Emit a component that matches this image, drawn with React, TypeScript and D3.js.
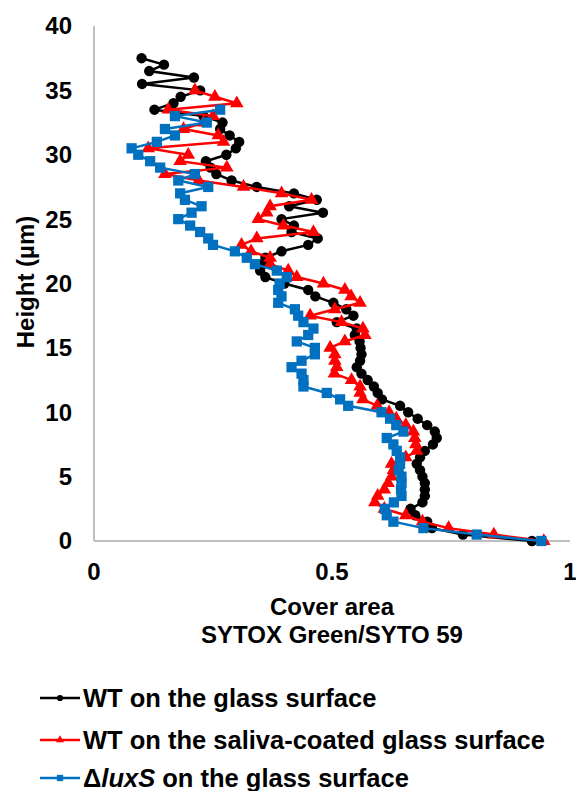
import React from 'react';
import * as d3 from 'd3';

// [height (µm), cover area]
const wtGlass: [number, number][] = [
  [0, 0.92], [0.5, 0.775], [1, 0.71], [1.5, 0.7], [2, 0.675], [2.5, 0.665], [3, 0.69], [3.5, 0.695],
  [4, 0.695], [4.5, 0.695], [5, 0.69], [5.5, 0.685], [6, 0.678], [6.5, 0.685], [7, 0.695], [7.5, 0.712],
  [8, 0.72], [8.5, 0.716], [9, 0.7], [9.5, 0.68], [10, 0.66], [10.5, 0.643], [11, 0.605], [11.5, 0.596],
  [12, 0.588], [12.5, 0.575], [13, 0.562], [13.5, 0.552], [14, 0.559], [14.5, 0.562], [15, 0.56], [15.5, 0.558],
  [16, 0.548], [16.5, 0.552], [17, 0.51], [17.5, 0.545], [18, 0.53], [18.5, 0.503], [19, 0.465], [19.5, 0.45],
  [20, 0.4], [20.5, 0.36], [21, 0.349], [21.5, 0.355], [22, 0.36], [22.5, 0.394], [23, 0.45], [23.5, 0.47],
  [24, 0.415], [24.5, 0.42], [25, 0.394], [25.5, 0.481], [26, 0.41], [26.5, 0.468], [27, 0.42], [27.5, 0.342],
  [28, 0.289], [28.5, 0.257], [29, 0.245], [29.5, 0.235], [30, 0.278], [30.5, 0.298], [31, 0.305], [31.5, 0.285],
  [32, 0.265], [32.5, 0.27], [33, 0.23], [33.5, 0.127], [34, 0.167], [34.5, 0.182], [35, 0.223], [35.5, 0.101],
  [36, 0.21], [36.5, 0.116], [37, 0.147], [37.5, 0.1],
];

const wtSaliva: [number, number][] = [
  [0, 0.945], [0.5, 0.84], [1, 0.745], [1.5, 0.69], [2, 0.655], [2.5, 0.61], [3, 0.59], [3.5, 0.596],
  [4, 0.61], [4.5, 0.618], [5, 0.625], [5.5, 0.629], [6, 0.625], [6.5, 0.655], [7, 0.678], [7.5, 0.676],
  [8, 0.674], [8.5, 0.671], [9, 0.655], [9.5, 0.635], [10, 0.62], [10.5, 0.595], [11, 0.565], [11.5, 0.559],
  [12, 0.559], [12.5, 0.541], [13, 0.505], [13.5, 0.51], [14, 0.506], [14.5, 0.506], [15, 0.496], [15.5, 0.527],
  [16, 0.569], [16.5, 0.565], [17, 0.52], [17.5, 0.454], [18, 0.506], [18.5, 0.559], [19, 0.54], [19.5, 0.527],
  [20, 0.482], [20.5, 0.426], [21, 0.408], [21.5, 0.37], [22, 0.37], [22.5, 0.33], [23, 0.31], [23.5, 0.342],
  [24, 0.461], [24.5, 0.398], [25, 0.345], [25.5, 0.363], [26, 0.37], [26.5, 0.457], [27, 0.394], [27.5, 0.314],
  [28, 0.22], [28.5, 0.149], [29, 0.279], [29.5, 0.181], [30, 0.198], [30.5, 0.114], [31, 0.272], [31.5, 0.261],
  [32, 0.188], [32.5, 0.23], [33, 0.25], [33.5, 0.156], [34, 0.3], [34.5, 0.254], [35, 0.212],
];

const luxSGlass: [number, number][] = [
  [0, 0.94], [0.5, 0.804], [1, 0.692], [1.5, 0.629], [2, 0.615], [2.5, 0.611], [3, 0.63], [3.5, 0.646],
  [4, 0.645], [4.5, 0.646], [5, 0.646], [5.5, 0.64], [6, 0.643], [6.5, 0.643], [7, 0.636], [7.5, 0.629],
  [8, 0.615], [8.5, 0.65], [9, 0.635], [9.5, 0.622], [10, 0.604], [10.5, 0.534], [11, 0.517], [11.5, 0.489],
  [12, 0.44], [12.5, 0.44], [13, 0.436], [13.5, 0.415], [14, 0.436], [14.5, 0.464], [15, 0.464], [15.5, 0.426],
  [16, 0.45], [16.5, 0.461], [17, 0.44], [17.5, 0.429], [18, 0.422], [18.5, 0.387], [19, 0.394], [19.5, 0.387],
  [20, 0.39], [20.5, 0.405], [21, 0.384], [21.5, 0.338], [22, 0.321], [22.5, 0.296], [23, 0.25], [23.5, 0.24],
  [24, 0.223], [24.5, 0.202], [25, 0.177], [25.5, 0.205], [26, 0.226], [26.5, 0.191], [27, 0.181], [27.5, 0.24],
  [28, 0.177], [28.5, 0.212], [29, 0.139], [29.5, 0.118], [30, 0.093], [30.5, 0.079], [31, 0.132], [31.5, 0.17],
  [32, 0.149], [32.5, 0.237], [33, 0.17], [33.5, 0.265],
];

const xTicks = [0, 0.5, 1];
const yTicks = [0, 5, 10, 15, 20, 25, 30, 35, 40];

const series = [
  { name: 'wt', data: wtGlass, color: '#000000', symbol: d3.symbolCircle, size: 85, legendSize: 30 },
  { name: 'saliva', data: wtSaliva, color: '#ff0000', symbol: d3.symbolTriangle, size: 80, legendSize: 28 },
  { name: 'luxs', data: luxSGlass, color: '#0070c0', symbol: d3.symbolSquare, size: 105, legendSize: 40 },
];

const font = 'Arial, "Liberation Sans", sans-serif';

export default function App() {
  const x = d3.scaleLinear().domain([0, 1]).range([94, 570]);
  const y = d3.scaleLinear().domain([0, 40]).range([541, 26]);

  const line = d3
    .line<[number, number]>()
    .x((d) => x(d[1]))
    .y((d) => y(d[0]));

  const legendRows = [698, 740, 778];

  return (
    <svg
      width={576}
      height={791}
      style={{ position: 'absolute', left: 0, top: 0, background: '#fff' }}
      fontFamily={font}
      fontWeight="bold"
    >
      <rect width={576} height={791} fill="#fff" />
      {/* axes */}
      <line x1={x(0)} x2={x(0)} y1={y(40)} y2={y(0)} stroke="#bfbfbf" strokeWidth={2} />
      <line x1={x(0)} x2={x(1)} y1={y(0)} y2={y(0)} stroke="#bfbfbf" strokeWidth={2} />

      {yTicks.map((t) => (
        <text key={t} x={72} y={y(t)} dy="0.35em" textAnchor="end" fontSize={24}>
          {t}
        </text>
      ))}
      {xTicks.map((t) => (
        <text key={t} x={x(t)} y={580} textAnchor="middle" fontSize={24}>
          {t}
        </text>
      ))}

      <text transform="translate(34,282) rotate(-90)" textAnchor="middle" fontSize={24}>
        Height (µm)
      </text>
      <text x={x(0.5)} y={615} textAnchor="middle" fontSize={24}>
        Cover area
      </text>
      <text x={x(0.5)} y={643} textAnchor="middle" fontSize={24}>
        SYTOX Green/SYTO 59
      </text>

      {series.map((s) => (
        <g key={s.name}>
          <path d={line(s.data) || ''} fill="none" stroke={s.color} strokeWidth={2.5} />
          {s.data.map((d, i) => (
            <path
              key={i}
              d={d3.symbol().type(s.symbol).size(s.size)() || ''}
              transform={`translate(${x(d[1])},${y(d[0])})`}
              fill={s.color}
            />
          ))}
        </g>
      ))}

      {/* legend */}
      {series.map((s, i) => (
        <g key={s.name} transform={`translate(0,${legendRows[i]})`}>
          <line x1={40} x2={80} y1={0} y2={0} stroke={s.color} strokeWidth={2.5} />
          <path
            d={d3.symbol().type(s.symbol).size(s.legendSize)() || ''}
            transform="translate(60,0)"
            fill={s.color}
          />
        </g>
      ))}
      <text x={83} y={707} fontSize={25.5}>
        WT on the glass surface
      </text>
      <text x={83} y={749} fontSize={25.5}>
        WT on the saliva-coated glass surface
      </text>
      <text x={83} y={787} fontSize={25.5}>
        Δ<tspan fontStyle="italic">luxS</tspan> on the glass surface
      </text>
    </svg>
  );
}
